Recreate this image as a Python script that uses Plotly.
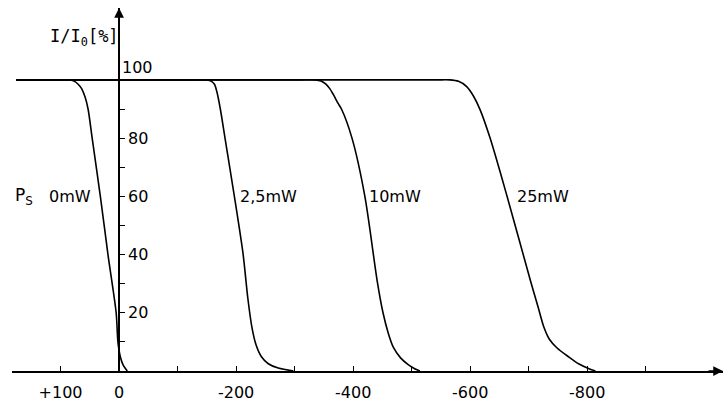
import plotly.graph_objects as go

# ---- data ----
U_0mW = [176, 100, 84, 76, 70, 64, 58, 53, 46, 32, 19, 5, 2, -2, -7, -14]
I_0mW = [100, 100, 100, 99.5, 98.5, 97, 94, 90, 80, 60, 40, 20, 10, 5, 2, 0]

U_2p5mW = [176, -130, -150, -158, -163, -167, -173, -181, -197, -212, -220, -227, -234, -243, -255, -272, -298]
I_2p5mW = [100, 100, 100, 99.5, 98.5, 96, 90, 80, 60, 40, 25, 15, 9, 5, 2.5, 1, 0]

U_10mW = [176, -310, -335, -345, -353, -360, -366, -374, -380, -398, -420, -441, -451, -460, -469, -481, -494, -506, -514]
I_10mW = [100, 100, 100, 99.6, 98.6, 97, 95, 92, 90, 80, 60, 31, 20, 13, 8, 4.5, 2.2, 0.7, 0]

U_25mW = [176, -540, -565, -580, -594, -606, -617, -634, -663, -703, -716, -726, -735, -748, -768, -786, -803, -814]
I_25mW = [100, 100, 100, 99.5, 97.7, 94.3, 89.7, 80, 60, 31, 22, 15, 11, 8, 4.9, 2.4, 0.8, 0]

series_names = ["0mW", "2,5mW", "10mW", "25mW"]
series_U = [U_0mW, U_2p5mW, U_10mW, U_25mW]
series_I = [I_0mW, I_2p5mW, I_10mW, I_25mW]
label_U = [123, -203, -424, -677]
label_I = [60, 60, 60, 60]

x_tickvals = [100, 0, -200, -400, -600, -800]
x_ticktext = ["+100", "0", "-200", "-400", "-600", "-800"]
x_minor = [-100, -300, -500, -700, -900]
y_tickvals = [20, 40, 60, 80]
y_minor = [10, 30, 50, 70, 90]

X_MAX, X_MIN = 183, -1032
Y_MIN, Y_MAX = 0, 124.7

FONT = "DejaVu Sans"
fig = go.Figure()
for name, u, i in zip(series_names, series_U, series_I):
    fig.add_trace(go.Scatter(x=u, y=i, mode="lines", name=name,
                             line=dict(color="black", width=1.6, shape="spline", smoothing=0.8),
                             showlegend=False, hoverinfo="skip"))

annotations = []
for name, lu, li in zip(series_names, label_U, label_I):
    annotations.append(dict(x=lu, y=li, text=name, showarrow=False, xanchor="left", yanchor="middle",
                            font=dict(size=16, color="black", family=FONT)))
annotations += [
    dict(x=181, y=60, text="P<sub>S</sub>", showarrow=False, xanchor="left", yanchor="middle",
         font=dict(size=17, color="black", family=FONT)),
    dict(x=0, y=100, text="100", showarrow=False, xanchor="left", yanchor="bottom", xshift=1, yshift=1,
         font=dict(size=16, color="black", family=FONT)),
    dict(x=121, y=114.4, text="I/I<sub>0</sub>[%]", showarrow=False, xanchor="left", yanchor="middle",
         font=dict(size=17, color="black", family="DejaVu Sans Mono")),
    dict(x=-904, y=-7.5, text="U<sub>B</sub>[V]", showarrow=False, xanchor="left", yanchor="middle",
         font=dict(size=17, color="black", family=FONT)),
    # axis arrows
    dict(x=X_MIN, y=0, ax=-16, ay=0, text="", showarrow=True, arrowhead=2, arrowsize=1.3,
         arrowwidth=1.5, arrowcolor="black", standoff=0),
    dict(x=0, y=Y_MAX, ax=0, ay=16, text="", showarrow=True, arrowhead=2, arrowsize=1.3,
         arrowwidth=1.5, arrowcolor="black", standoff=0),
]

ypos = (X_MAX - 0) / (X_MAX - X_MIN)

fig.update_layout(
    width=725, height=404,
    margin=dict(l=12, r=2, t=8, b=33),
    paper_bgcolor="white", plot_bgcolor="white",
    font=dict(family=FONT, size=16, color="black"),
    xaxis=dict(range=[X_MAX, X_MIN], showgrid=False, zeroline=False, showline=True,
               linecolor="black", linewidth=1.5, ticks="inside", ticklen=5, tickwidth=1,
               tickcolor="black", tickmode="array", tickvals=x_tickvals, ticktext=x_ticktext,
               tickfont=dict(size=16, family=FONT), ticklabelstandoff=6,
               minor=dict(tickmode="array", tickvals=x_minor, ticks="inside", ticklen=5,
                          tickcolor="black", tickwidth=1)),
    yaxis=dict(range=[Y_MIN, Y_MAX], anchor="free", position=ypos, side="right",
               showgrid=False, zeroline=False, showline=True, linecolor="black", linewidth=1.5,
               ticks="outside", ticklen=5, tickwidth=1, tickcolor="black",
               tickmode="array", tickvals=y_tickvals, tickfont=dict(size=16, family=FONT),
               minor=dict(tickmode="array", tickvals=y_minor, ticks="outside", ticklen=5,
                          tickcolor="black", tickwidth=1)),
    annotations=annotations,
)

fig.write_html("out.html")
